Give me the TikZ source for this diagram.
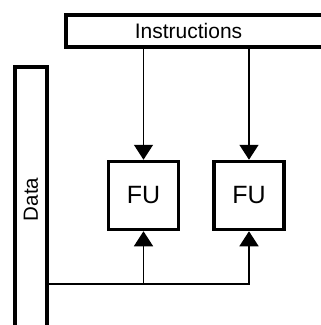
\documentclass[tikz,border=0pt]{standalone}
\usepackage{fontspec}
\setmainfont{Liberation Sans}
\usetikzlibrary{arrows.meta, positioning}

\begin{document}
\begin{tikzpicture}[
  x=1pt, y=1pt,
  bar/.style={draw=black, line width=3.5pt, fill=white, inner sep=0pt, font=\fontsize{21}{24}\selectfont},
  fubox/.style={draw=black, line width=3.5pt, fill=white, minimum width=70pt, minimum height=68pt, inner sep=0pt, font=\fontsize{25}{28}\selectfont},
  feed/.style={line width=1.4pt, -{Triangle[width=19pt, length=15pt]}}
]
  \useasboundingbox (0,0) rectangle (321,325);
  \node[bar, minimum width=258pt, minimum height=32pt] (instr) at (195,294) {\hspace*{-13pt}Instructions};
  \node[bar, rotate=90, minimum width=265pt, minimum height=32pt, font=\fontsize{20.5}{24}\selectfont] (data) at (31,125.5) {Data};
  \node[fubox] (fuA) at (143.5,129.5) {FU};
  \node[fubox] (fuB) at (249,129.5) {FU};
  \coordinate (bus) at (48,41);
  % instruction lines
  \draw[feed] (instr.south -| fuA) -- (fuA.north);
  \draw[feed] (instr.south -| fuB) -- (fuB.north);
  % data lines
  \draw[line width=1.4pt] (bus) -- (bus -| fuA);
  \draw[feed] (bus -| fuA) -- (fuA.south);
  \draw[feed] (bus) -| (fuB.south);
\end{tikzpicture}
\end{document}
